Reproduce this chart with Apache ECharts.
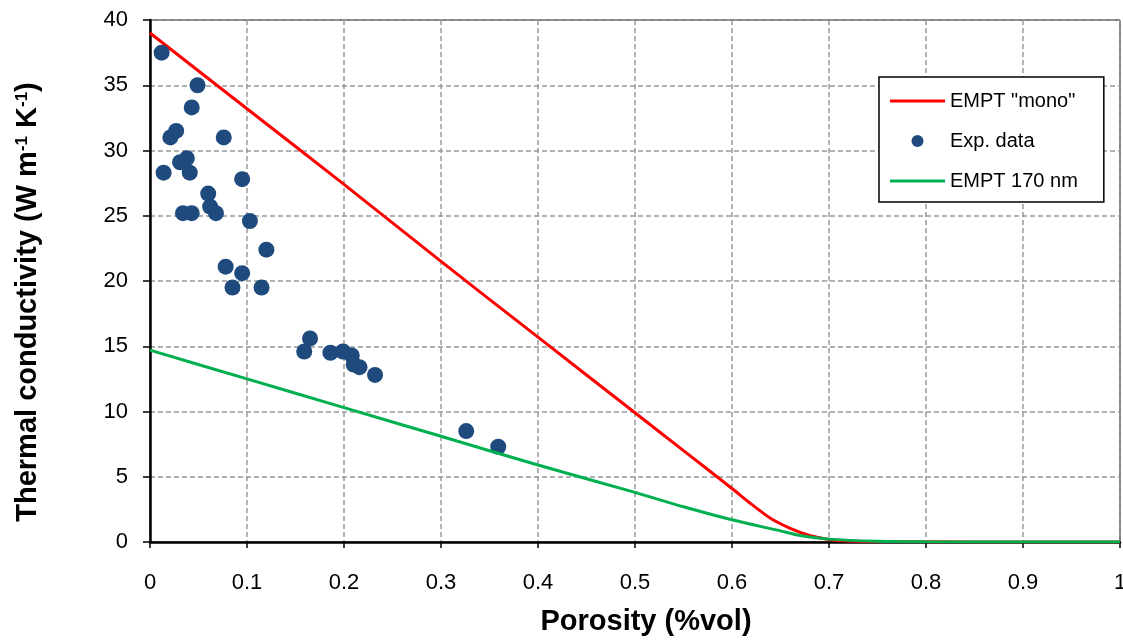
<!DOCTYPE html>
<html>
<head>
<meta charset="utf-8">
<script src="https://cdn.jsdelivr.net/npm/echarts@6/dist/echarts.min.js"></script>
<style>
  html, body { margin: 0; padding: 0; background: #fff; }
  #chart { width: 1123px; height: 642px; }
</style>
</head>
<body>
<div id="chart"></div>
<script>
// Porosity (volume fraction) and thermal conductivity (W m-1 K-1)
const mono = [
  [0, 39.0], [0.1, 33.2], [0.2, 27.4], [0.3, 21.5], [0.4, 15.7], [0.5, 9.9],
  [0.55, 7.0], [0.6, 4.1], [0.62, 2.9], [0.64, 1.8], [0.66, 1.05], [0.68, 0.5],
  [0.7, 0.2], [0.72, 0.08], [0.75, 0.02], [0.8, 0.01], [0.9, 0], [1.0, 0]
];
const nm170 = [
  [0, 14.7], [0.1, 12.5], [0.2, 10.3], [0.3, 8.1], [0.4, 5.9], [0.5, 3.8],
  [0.55, 2.7], [0.6, 1.7], [0.65, 0.85], [0.67, 0.5], [0.7, 0.22],
  [0.75, 0.06], [0.8, 0.02], [0.9, 0], [1.0, 0]
];
const expData = [
  [0.012, 37.5], [0.049, 35.0], [0.043, 33.3], [0.027, 31.5], [0.021, 31.0],
  [0.076, 31.0], [0.031, 29.1], [0.038, 29.4], [0.014, 28.3], [0.041, 28.3],
  [0.095, 27.8], [0.060, 26.7], [0.062, 25.7], [0.068, 25.2], [0.034, 25.2],
  [0.043, 25.2], [0.103, 24.6], [0.120, 22.4], [0.078, 21.1], [0.095, 20.6],
  [0.085, 19.5], [0.115, 19.5], [0.165, 15.6], [0.159, 14.6], [0.186, 14.5],
  [0.199, 14.6], [0.208, 14.3], [0.210, 13.6], [0.216, 13.4], [0.232, 12.8],
  [0.326, 8.5], [0.359, 7.3]
];
const seriesNames = ['EMPT "mono"', 'Exp. data', 'EMPT 170 nm'];
const xTitle = 'Porosity (%vol)';
const yTitle = 'Thermal conductivity (W m{sup|-1} K{sup|-1})';

const font = '"Liberation Sans", Arial, sans-serif';
const lineIcon = 'path://M0,0 L55,0 L55,3.2 L0,3.2 Z';
const chart = echarts.init(document.getElementById('chart'), null, { renderer: 'canvas' });

chart.setOption({
  animation: false,
  backgroundColor: '#fff',
  grid: {
    left: 150, right: 3, top: 20, bottom: 100,
    outerBoundsMode: 'none', containLabel: false,
    show: true, borderColor: '#000', borderWidth: 1
  },
  legend: {
    orient: 'vertical',
    left: 879, top: 77,
    padding: [14, 26, 11, 11],
    itemGap: 20,
    itemWidth: 55,
    itemHeight: 12,
    borderColor: '#000',
    borderWidth: 1.5,
    backgroundColor: '#fff',
    textStyle: { fontFamily: font, fontSize: 20, color: '#000' },
    data: [
      { name: seriesNames[0], icon: lineIcon },
      { name: seriesNames[1], icon: 'circle' },
      { name: seriesNames[2], icon: lineIcon }
    ]
  },
  graphic: [
    {
      type: 'text', x: 646, y: 607, z: 10,
      style: {
        text: xTitle, fontFamily: font, fontSize: 29, fontWeight: 'bold',
        fill: '#000', align: 'center', verticalAlign: 'top'
      }
    },
    {
      type: 'text', x: 28, y: 302, rotation: Math.PI / 2, z: 10,
      style: {
        text: yTitle, fontFamily: font, fontSize: 29, fontWeight: 'bold',
        fill: '#000', align: 'center', verticalAlign: 'middle',
        rich: {
          sup: { fontFamily: font, fontSize: 17, fontWeight: 'bold', fill: '#000', verticalAlign: 'top', padding: [0, 0, 12, 0] }
        }
      }
    }
  ],
  xAxis: {
    type: 'value', min: 0, max: 1, interval: 0.1,
    axisLine: { onZero: false, lineStyle: { color: '#000', width: 2.5 } },
    axisTick: { show: true, length: 6, lineStyle: { color: '#000', width: 1.5 } },
    axisLabel: { fontFamily: font, fontSize: 22, color: '#000', margin: 30 },
    splitLine: { show: true, lineStyle: { color: '#999', width: 1.5, type: [5, 3] } }
  },
  yAxis: {
    type: 'value', min: 0, max: 40, interval: 5,
    axisLine: { lineStyle: { color: '#000', width: 2.5 } },
    axisTick: { show: true, length: 7, lineStyle: { color: '#000', width: 1.5 } },
    axisLabel: { fontFamily: font, fontSize: 22, color: '#000', margin: 22 },
    splitLine: { show: true, lineStyle: { color: '#999', width: 1.5, type: [5, 3] } }
  },
  series: [
    {
      name: seriesNames[0], type: 'line', data: mono, smooth: 0.3,
      symbol: 'none', lineStyle: { color: '#ff0000', width: 3 },
      itemStyle: { color: '#ff0000' }, z: 3
    },
    {
      name: seriesNames[1], type: 'scatter', data: expData,
      symbol: 'circle', symbolSize: 16,
      itemStyle: { color: '#1f4a7e', opacity: 1 }, z: 4
    },
    {
      name: seriesNames[2], type: 'line', data: nm170, smooth: 0.3,
      symbol: 'none', lineStyle: { color: '#00b050', width: 3 },
      itemStyle: { color: '#00b050' }, z: 5
    }
  ]
});
</script>
</body>
</html>
